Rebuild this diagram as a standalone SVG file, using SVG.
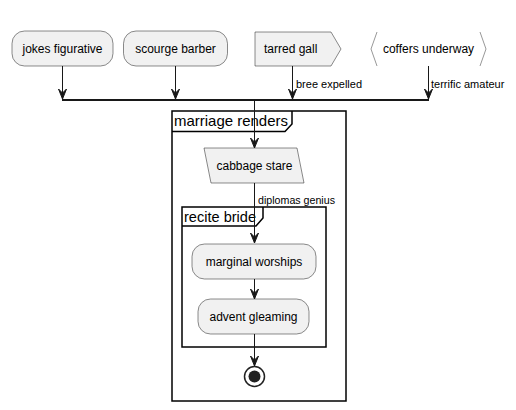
<svg xmlns="http://www.w3.org/2000/svg" width="516" height="410" viewBox="0 0 516 410">
<defs>
<style>
.node{fill:#F1F1F1;stroke:#181818;stroke-width:0.5}
.brk{fill:none;stroke:#999999;stroke-width:1}
.t{font-family:"Liberation Sans",Arial,sans-serif;font-size:12px;fill:#000}
.lbl{font-family:"Liberation Sans",Arial,sans-serif;font-size:11px;fill:#000}
.gt{font-family:"Liberation Sans",Arial,sans-serif;font-size:14.5px;fill:#000}
.frame{fill:none;stroke:#000;stroke-width:1.5}
.ln{fill:none;stroke:#181818;stroke-width:1}
.ah{fill:#181818;stroke:#181818;stroke-width:1}
</style>
</defs>
<rect width="516" height="410" fill="#FFFFFF"/>
<g id="group-marriage-renders">
<rect class="frame" x="172" y="111" width="174" height="290"/>
<path class="frame" d="M172,131.5 L285,131.5 L292,124 L292,111"/>
<text class="gt" x="174" y="126" textLength="114" lengthAdjust="spacingAndGlyphs">marriage renders</text>
</g>
<g id="group-recite-bride">
<rect class="frame" x="182" y="207" width="144" height="140"/>
<path class="frame" d="M182,226 L256,226 L263,218 L263,207"/>
<text class="gt" x="184" y="221.5" textLength="72" lengthAdjust="spacingAndGlyphs">recite bride</text>
</g>
<g id="connectors">
<line class="ln" x1="62.5" y1="66" x2="62.5" y2="99"/>
<polygon class="ah" points="58.5,89 62.5,99 66.5,89 62.5,93"/>
<line class="ln" x1="175.5" y1="66" x2="175.5" y2="99"/>
<polygon class="ah" points="171.5,89 175.5,99 179.5,89 175.5,93"/>
<line class="ln" x1="292.5" y1="66" x2="292.5" y2="99"/>
<polygon class="ah" points="288.5,89 292.5,99 296.5,89 292.5,93"/>
<text class="lbl" x="296" y="88">bree expelled</text>
<line class="ln" x1="428.5" y1="66" x2="428.5" y2="99"/>
<polygon class="ah" points="424.5,89 428.5,99 432.5,89 428.5,93"/>
<text class="lbl" x="431" y="88">terrific amateur</text>
<rect x="62" y="99" width="367" height="2" fill="#181818"/>
<line class="ln" x1="254.5" y1="101" x2="254.5" y2="148"/>
<polygon class="ah" points="250.5,138 254.5,148 258.5,138 254.5,142"/>
<line class="ln" x1="254.5" y1="183" x2="254.5" y2="243"/>
<polygon class="ah" points="250.5,233 254.5,243 258.5,233 254.5,237"/>
<text class="lbl" x="258" y="204" textLength="77" lengthAdjust="spacingAndGlyphs">diplomas genius</text>
<line class="ln" x1="254.5" y1="279" x2="254.5" y2="299"/>
<polygon class="ah" points="250.5,289 254.5,299 258.5,289 254.5,293"/>
<line class="ln" x1="254.5" y1="334" x2="254.5" y2="366"/>
<polygon class="ah" points="250.5,356 254.5,366 258.5,356 254.5,360"/>
</g>
<g id="node-jokes-figurative">
<rect class="node" x="12" y="31" width="101" height="35" rx="12.5" ry="12.5"/>
<text class="t" x="62.5" y="53" text-anchor="middle">jokes figurative</text>
</g>
<g id="node-scourge-barber">
<rect class="node" x="123.5" y="31" width="104" height="35" rx="12.5" ry="12.5"/>
<text class="t" x="175.5" y="53" text-anchor="middle">scourge barber</text>
</g>
<g id="node-tarred-gall">
<polygon class="node" points="255,32 331,32 341,49 331,66 255,66"/>
<text class="t" x="264" y="53">tarred gall</text>
</g>
<g id="node-coffers-underway">
<polyline class="brk" points="377,32 371,49 377,66"/>
<polyline class="brk" points="480,32 486,49 480,66"/>
<text class="t" x="428.5" y="53" text-anchor="middle">coffers underway</text>
</g>
<g id="node-cabbage-stare">
<polygon class="node" points="204,148 297,148 304,183 211,183"/>
<text class="t" x="254.5" y="170" text-anchor="middle">cabbage stare</text>
</g>
<g id="node-marginal-worships">
<rect class="node" x="192" y="244" width="124" height="35" rx="12.5" ry="12.5"/>
<text class="t" x="254" y="266" text-anchor="middle">marginal worships</text>
</g>
<g id="node-advent-gleaming">
<rect class="node" x="198" y="299" width="111" height="35" rx="12.5" ry="12.5"/>
<text class="t" x="253.5" y="321" text-anchor="middle">advent gleaming</text>
</g>
<g id="node-end">
<circle cx="254.5" cy="376.5" r="10" fill="none" stroke="#222222" stroke-width="1.5"/>
<circle cx="254.5" cy="376.5" r="6" fill="#222222"/>
</g>
</svg>
